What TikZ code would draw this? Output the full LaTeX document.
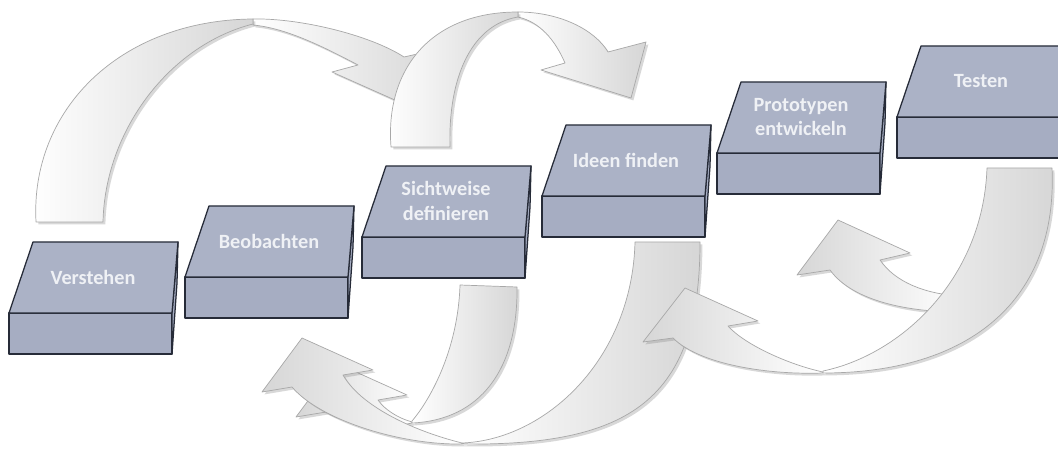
\documentclass[tikz,border=0pt]{standalone}
\usepackage{fontspec}
\setmainfont{Carlito}
\usetikzlibrary{shadows}
\definecolor{BlockBlue}{HTML}{ABB2C6}
\definecolor{BlockFront}{HTML}{A6ADC2}
\definecolor{BlockEdge}{HTML}{262B38}
\definecolor{ArrowEdge}{HTML}{A8A8A8}
\definecolor{ArrowShade}{HTML}{D6D6D6}
\definecolor{LabelWhite}{HTML}{EFF1F5}

\begin{document}
\begin{tikzpicture}[x=0.025cm, y=-0.025cm]
  \tikzset{%
    ribbon/.style={draw=ArrowEdge, line width=0.5pt, line join=round,%
      left color=white, right color=ArrowShade,%
      drop shadow={shadow xshift=0.06cm, shadow yshift=-0.06cm, opacity=0.3, fill=gray}},%
    ribbon back/.style={ribbon, left color=ArrowShade, right color=white},%
    block top/.style={fill=BlockBlue, draw=BlockEdge, line width=0.9pt, line join=round},%
    block front/.style={fill=BlockFront, draw=BlockEdge, line width=0.9pt, line join=round},%
    block label/.style={text=LabelWhite, align=center,%
      font=\bfseries\fontsize{14.4}{17.7}\selectfont}%
  }%
  \path[use as bounding box, fill=white] (0,0) rectangle (1058,452);%
  \clip (0,0) rectangle (1058,452);%

  %
  % Pfeile oben
  %
  \path[ribbon] (253,19) .. controls (300,18) and (370,35) .. (404,57) -- (444,48) -- (406,105)%
    -- (332,72) -- (358,65) .. controls (320,45) and (285,28) .. (253,25) -- cycle;%
  \path[ribbon] (36,222) .. controls (30,110) and (120,20) .. (253,19)%
    -- (253,24) .. controls (170,45) and (105,130) .. (103,222) -- cycle;%

  \path[ribbon] (518,12) .. controls (560,12) and (595,30) .. (608,52) -- (646,42) -- (631,98)%
    -- (541,70) -- (565,63) .. controls (555,40) and (540,22) .. (518,17) -- cycle;%
  \path[ribbon] (391,147) .. controls (385,70) and (430,12) .. (518,12)%
    -- (518,17) .. controls (470,25) and (448,80) .. (450,147) -- cycle;%

  %
  % Pfeile unten
  %
  % Sichtweise
  \path[ribbon back] (412,422) .. controls (398,418) and (385,410) .. (378,400) -- (407,395) -- (336,363)%
    -- (296,417) -- (326,412) .. controls (350,425) and (390,428) .. (412,423) -- cycle;%
  \path[ribbon] (460,285) -- (517,287) .. controls (518,370) and (480,420) .. (412,423)%
    -- (412,421) .. controls (430,400) and (458,350) .. (460,285) -- cycle;%

  % Ideen
  \path[ribbon back] (462,443) .. controls (410,430) and (360,405) .. (343,375) -- (373,370) -- (302,338)%
    -- (262,392) -- (292,387) .. controls (320,420) and (400,445) .. (462,444) -- cycle;%
  \path[ribbon] (635,242) -- (700,242) .. controls (700,400) and (630,446) .. (462,444)%
    -- (462,443) .. controls (545,440) and (632,360) .. (635,242) -- cycle;%

  % Testen
  \path[ribbon back] (960,296) .. controls (925,294) and (895,282) .. (880,260) -- (910,253) -- (838,220)%
    -- (797,275) -- (830,270) .. controls (850,298) and (900,312) .. (960,312) -- cycle;%
  \path[ribbon back] (823,372) .. controls (790,365) and (745,345) .. (728,326) -- (758,321) -- (685,288)%
    -- (643,342) -- (673,338) .. controls (700,365) and (770,375) .. (823,373) -- cycle;%
  \path[ribbon] (987,168) -- (1052,168) .. controls (1058,300) and (970,373) .. (823,373)%
    -- (823,371) .. controls (900,355) and (983,280) .. (987,168) -- cycle;%

  %
  % Stufen
  %
  \foreach \fx/\fy/\nm/\txt in {9/313/verstehen/Verstehen, 185/277/beobachten/Beobachten,%
      362/237/sichtweise/{Sichtweise\\definieren}, 542/196/ideen/{Ideen finden},%
      717/153/prototypen/{Prototypen\\entwickeln}, 897/117/testen/Testen} {%
      \draw[block front] (\fx,\fy) rectangle ++(163,41);%
      \draw[block front] (\fx+163,\fy) -- ++(6,-71) -- ++(-1,41) -- ++(-5,71) -- cycle;%
      \draw[block top] (\fx,\fy) -- ++(163,0) -- ++(6,-71) -- ++(-145,0) -- cycle;%
      \node[block label] (\nm) at (\fx+84,\fy-36) {\txt};%
    }%
\end{tikzpicture}
\end{document}
